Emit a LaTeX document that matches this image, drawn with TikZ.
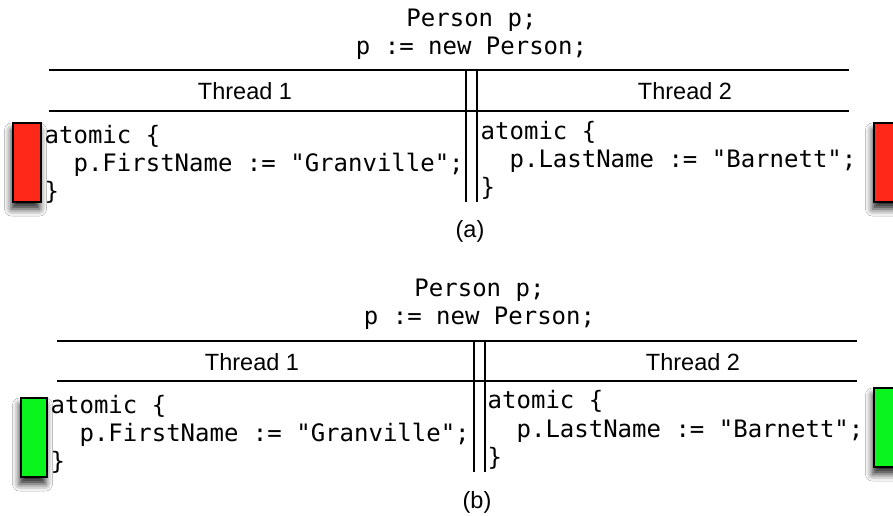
\documentclass[tikz,border=0pt]{standalone}
\usepackage{fontspec}
\setmonofont{DejaVu Sans Mono}
\setsansfont{Liberation Sans}
\usetikzlibrary{shadows.blur}
\definecolor{lockred}{RGB}{255,40,25}
\definecolor{lockgreen}{RGB}{10,245,30}
\tikzset{
  code/.style={anchor=base west, inner sep=0pt, font=\ttfamily\fontsize{24}{28}\selectfont},
  hdr/.style={anchor=base, inner sep=0pt, font=\ttfamily\fontsize{24}{28}\selectfont},
  thr/.style={anchor=base, inner sep=0pt, font=\sffamily\fontsize{23.5}{28}\selectfont},
  rule/.style={line width=2pt},
  lockbox/.style={draw=black, line width=1.8pt,
    blur shadow={shadow xshift=-1.5pt, shadow yshift=-7pt, shadow blur radius=7pt, shadow opacity=85}},
}
\begin{document}
\begin{tikzpicture}[x=1pt,y=-1pt]
\useasboundingbox[fill=white] (0,0) rectangle (893,515);

% ---------- panel (a) ----------
\node[hdr] (ah1) at (471.5,26) {Person p;};
\node[hdr] (ah2) at (471.5,54) {p := new Person;};
\draw[rule] (49,70) -- (849,70);
\draw[rule] (49,111) -- (849,111);
\draw[rule] (466,70) -- (466,202);
\draw[rule] (477,70) -- (477,202);
\node[thr] (at1) at (245,99) {Thread 1};
\node[thr] (at2) at (685,99) {Thread 2};
\node[code] (al1) at (44.5,143) {atomic \{};
\node[code] (al2) at (44.5,171) {\ \ p.FirstName := "Granville";};
\node[code] (al3) at (44.5,199) {\}};
\node[code] (ar1) at (480.5,139) {atomic \{};
\node[code] (ar2) at (480.5,167) {\ \ p.LastName := "Barnett";};
\node[code] (ar3) at (480.5,195) {\}};
\path[lockbox, fill=lockred] (13,123) rectangle (41,202);
\path[lockbox, fill=lockred] (874,123) rectangle (902,202);
\node[thr] (acap) at (470,237) {(a)};

% ---------- panel (b) ----------
\node[hdr] (bh1) at (479.5,296) {Person p;};
\node[hdr] (bh2) at (479.5,324) {p := new Person;};
\draw[rule] (57,341) -- (857,341);
\draw[rule] (57,381) -- (857,381);
\draw[rule] (474,341) -- (474,472);
\draw[rule] (485,341) -- (485,472);
\node[thr] (bt1) at (252,370) {Thread 1};
\node[thr] (bt2) at (693,370) {Thread 2};
\node[code] (bl1) at (50.5,413) {atomic \{};
\node[code] (bl2) at (50.5,441) {\ \ p.FirstName := "Granville";};
\node[code] (bl3) at (50.5,469) {\}};
\node[code] (br1) at (487.5,408) {atomic \{};
\node[code] (br2) at (487.5,437) {\ \ p.LastName := "Barnett";};
\node[code] (br3) at (487.5,465) {\}};
\path[lockbox, fill=lockgreen] (21,398) rectangle (47,477);
\path[lockbox, fill=lockgreen] (874,388) rectangle (902,467);
\node[thr] (bcap) at (477,508) {(b)};
\end{tikzpicture}
\end{document}
